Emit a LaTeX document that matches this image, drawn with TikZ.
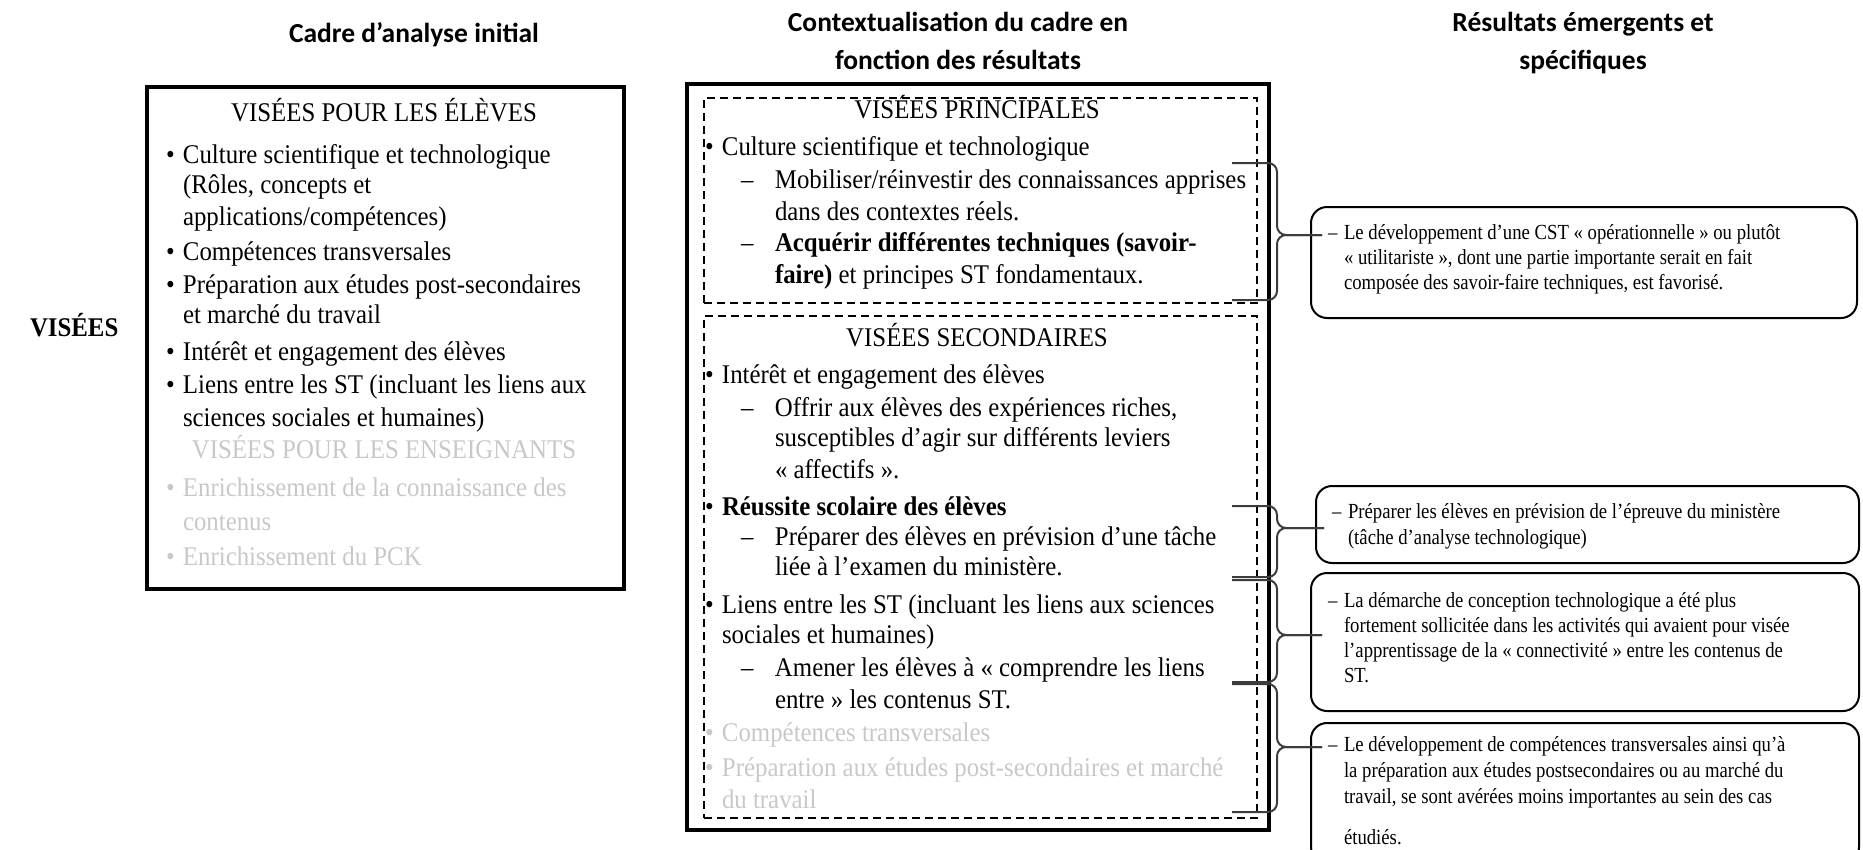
\documentclass[tikz,border=0pt]{standalone}
\usepackage{fontspec}
\setmainfont{Liberation Serif}[FakeStretch=0.92]
\newfontfamily\rfont{Liberation Serif}[FakeStretch=0.87]
\newfontfamily\hdrfont{Carlito}
\definecolor{lgray}{RGB}{200,200,200}
\definecolor{bracec}{RGB}{60,60,60}
\newcommand\mybul{\makebox[17pt][l]{•}}
\newcommand\mydash{\makebox[34pt][l]{–}}
\newcommand\rdash{\makebox[16pt][l]{–}}
\tikzset{
  txt/.style={inner sep=0pt, outer sep=0pt, anchor=west, font=\fontsize{27}{32}\selectfont, text height=16pt, text depth=0pt},
  ttl/.style={txt, anchor=center},
  rtxt/.style={inner sep=0pt, outer sep=0pt, anchor=west, font=\rfont\fontsize{21.5}{25}\selectfont, text height=13pt, text depth=0pt},
  hdr/.style={inner sep=0pt, outer sep=0pt, font=\hdrfont\bfseries\fontsize{27.5}{33}\selectfont, text height=18pt, text depth=0pt},
  lbl/.style={inner sep=0pt, outer sep=0pt, anchor=west, font=\bfseries\fontsize{27}{32}\selectfont, text height=16pt, text depth=0pt},
  faded/.style={text=lgray},
  thickbox/.style={draw, line width=4pt, inner sep=0pt, anchor=north west},
  dbox/.style={draw, dash pattern=on 8pt off 5pt, line width=2pt, inner sep=0pt, anchor=north west},
  rbox/.style={draw, rounded corners=16pt, line width=2pt, inner sep=0pt, anchor=north west},
  brace/.style={draw=bracec, line width=2pt, rounded corners=9pt},
}
\begin{document}
\begin{tikzpicture}[x=1pt, y=-1pt]
\useasboundingbox (0,0) rectangle (1863,849);
\clip (0,0) rectangle (1863,849);

% ---------- headers ----------
\node[hdr] (h1) at (414,33) {Cadre d’analyse initial};
\node[hdr] (h2a) at (958,22) {Contextualisation du cadre en};
\node[hdr] (h2b) at (958,60) {fonction des résultats};
\node[hdr] (h3a) at (1583,22) {Résultats émergents et};
\node[hdr] (h3b) at (1583,60) {spécifiques};

\node[lbl] (vis) at (30,328) {VISÉES};

% ---------- left box ----------
\node[thickbox, minimum width=477pt, minimum height=502pt] (lbox) at (145,85) {};
\node[ttl] (lt1) at (384,113) {VISÉES POUR LES ÉLÈVES};
\node[txt] (l1) at (166,155) {\mybul Culture scientifique et technologique};
\node[txt] (l2) at (183,185) {(Rôles, concepts et};
\node[txt] (l3) at (183,217) {applications/compétences)};
\node[txt] (l4) at (166,252) {\mybul Compétences transversales};
\node[txt] (l5) at (166,285) {\mybul Préparation aux études post-secondaires};
\node[txt] (l6) at (183,315) {et marché du travail};
\node[txt] (l7) at (166,352) {\mybul Intérêt et engagement des élèves};
\node[txt] (l8) at (166,385) {\mybul Liens entre les ST (incluant les liens aux};
\node[txt] (l9) at (183,418) {sciences sociales et humaines)};
\node[ttl, faded] (lt2) at (384,450) {VISÉES POUR LES ENSEIGNANTS};
\node[txt, faded] (l10) at (166,488) {\mybul Enrichissement de la connaissance des};
\node[txt, faded] (l11) at (183,522) {contenus};
\node[txt, faded] (l12) at (166,557) {\mybul Enrichissement du PCK};

% ---------- middle box ----------
\node[thickbox, line width=3.5pt, minimum width=582pt, minimum height=746pt] (mbox) at (685,82) {};
\node[dbox, minimum width=553pt, minimum height=205pt] (dp) at (703,97) {};
\node[dbox, minimum width=553pt, minimum height=502pt] (ds) at (703,315) {};

\node[ttl] (mt1) at (977,110) {VISÉES PRINCIPALES};
\node[txt] (m1) at (705,147) {\mybul Culture scientifique et technologique};
\node[txt] (m2) at (741,180) {\mydash Mobiliser/réinvestir des connaissances apprises};
\node[txt] (m3) at (775,212) {dans des contextes réels.};
\node[txt] (m4) at (741,243) {\mydash\textbf{Acquérir différentes techniques (savoir-}};
\node[txt] (m5) at (775,275) {\textbf{faire)} et principes ST fondamentaux.};

\node[ttl] (mt2) at (977,338) {VISÉES SECONDAIRES};
\node[txt] (m6) at (705,375) {\mybul Intérêt et engagement des élèves};
\node[txt] (m7) at (741,408) {\mydash Offrir aux élèves des expériences riches,};
\node[txt] (m8) at (775,438) {susceptibles d’agir sur différents leviers};
\node[txt] (m9) at (775,470) {« affectifs ».};
\node[txt] (m10) at (705,507) {\mybul\textbf{Réussite scolaire des élèves}};
\node[txt] (m11) at (741,537) {\mydash Préparer des élèves en prévision d’une tâche};
\node[txt] (m12) at (775,567) {liée à l’examen du ministère.};
\node[txt] (m13) at (705,605) {\mybul Liens entre les ST (incluant les liens aux sciences};
\node[txt] (m14) at (722,635) {sociales et humaines)};
\node[txt] (m15) at (741,668) {\mydash Amener les élèves à « comprendre les liens};
\node[txt] (m16) at (775,700) {entre » les contenus ST.};
\node[txt, faded] (m17) at (705,733) {\mybul Compétences transversales};
\node[txt, faded] (m18) at (705,768) {\mybul Préparation aux études post-secondaires et marché};
\node[txt, faded] (m19) at (722,800) {du travail};

% ---------- right boxes ----------
\node[rbox, minimum width=546pt, minimum height=111pt] (r1) at (1310,206) {};
\node[rbox, minimum width=543pt, minimum height=77pt] (r2) at (1315,485) {};
\node[rbox, minimum width=548pt, minimum height=138pt] (r3) at (1310,572) {};
\node[rbox, minimum width=548pt, minimum height=140pt] (r4) at (1310,722) {};

\node[rtxt] (r1a) at (1328,233) {\rdash Le développement d’une CST « opérationnelle » ou plutôt};
\node[rtxt] (r1b) at (1344,258) {« utilitariste », dont une partie importante serait en fait};
\node[rtxt] (r1c) at (1344,283) {composée des savoir-faire techniques, est favorisé.};

\node[rtxt] (r2a) at (1332,512) {\rdash Préparer les élèves en prévision de l’épreuve du ministère};
\node[rtxt] (r2b) at (1348,538) {(tâche d’analyse technologique)};

\node[rtxt] (r3a) at (1328,601) {\rdash La démarche de conception technologique a été plus};
\node[rtxt] (r3b) at (1344,626) {fortement sollicitée dans les activités qui avaient pour visée};
\node[rtxt] (r3c) at (1344,651) {l’apprentissage de la « connectivité » entre les contenus de};
\node[rtxt] (r3d) at (1344,676) {ST.};

\node[rtxt] (r4a) at (1328,745) {\rdash Le développement de compétences transversales ainsi qu’à};
\node[rtxt] (r4b) at (1344,771) {la préparation aux études postsecondaires ou au marché du};
\node[rtxt] (r4c) at (1344,797) {travail, se sont avérées moins importantes au sein des cas};
\node[rtxt] (r4d) at (1344,838) {étudiés.};

% ---------- braces ----------
\coordinate (b1t) at (1232,163); \coordinate (b1b) at (1232,300);
\coordinate (b1e) at (1322,235);
\coordinate (b2t) at (1232,506); \coordinate (b2b) at (1232,577);
\coordinate (b2e) at (1324,528);
\coordinate (b3t) at (1232,580); \coordinate (b3b) at (1232,682);
\coordinate (b3e) at (1322,635);
\coordinate (b4t) at (1232,684); \coordinate (b4b) at (1232,812);
\coordinate (b4e) at (1322,747);

\draw[brace] (b1t) -- (b1t -| 1277,0) -- (b1e -| 1277,0) -- (b1e);
\draw[brace] (b1b) -- (b1b -| 1277,0) -- (b1e -| 1277,0) -- (b1e);
\draw[brace] (b2t) -- (b2t -| 1277,0) -- (b2e -| 1277,0) -- (b2e);
\draw[brace] (b2b) -- (b2b -| 1277,0) -- (b2e -| 1277,0) -- (b2e);
\draw[brace] (b3t) -- (b3t -| 1277,0) -- (b3e -| 1277,0) -- (b3e);
\draw[brace] (b3b) -- (b3b -| 1277,0) -- (b3e -| 1277,0) -- (b3e);
\draw[brace] (b4t) -- (b4t -| 1277,0) -- (b4e -| 1277,0) -- (b4e);
\draw[brace] (b4b) -- (b4b -| 1277,0) -- (b4e -| 1277,0) -- (b4e);
\end{tikzpicture}
\end{document}
